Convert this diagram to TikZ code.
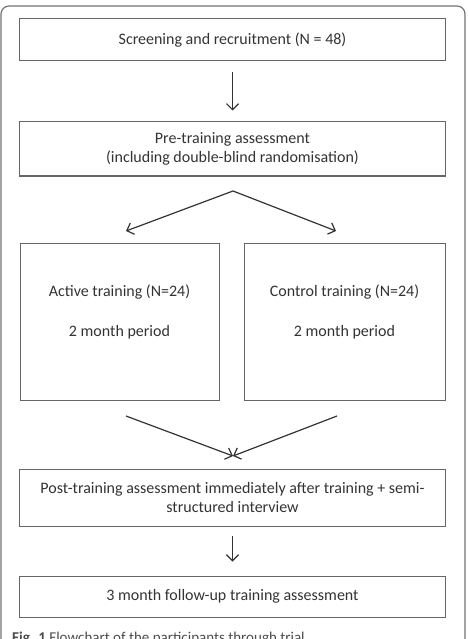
\documentclass[tikz,border=0pt]{standalone}
\usepackage{fontspec}
\setmainfont{Carlito}
\usetikzlibrary{arrows.meta, positioning}

\begin{document}
\begin{tikzpicture}[x=1pt, y=-1pt, >={Straight Barb[length=6pt,width=12pt]},
    box/.style={draw=black!60, line width=1pt, inner sep=0pt, align=center,
        font=\fontsize{16}{19.5}\selectfont, text=black!80},
    flow/.style={->, black!80, line width=1.2pt}]

    \useasboundingbox (0,0) rectangle (467,639);
    \begin{scope}
        \clip (0,0) rectangle (467,639);
        \draw [black!55, line width=1.2pt, rounded corners=8pt] (1,6) rectangle (465,720);
        \node [anchor=base west, inner sep=0pt, text=black!70,
            font=\fontsize{15}{18}\selectfont] (caption) at (12,642)
            {\textbf{Fig. 1} Flowchart of the participants through trial};
    \end{scope}

    \node [box, minimum width=426, minimum height=42] (screen) at (232.5,40) {Screening and recruitment (N = 48)};
    \node [box, minimum width=426, minimum height=54] (pre) at (232.5,149) {Pre-training assessment\\(including double-blind randomisation)};
    \node [box, minimum width=199, minimum height=157] (active) at (119.5,321.5) {};
    \node [box, minimum width=201, minimum height=157] (control) at (344.5,321.5) {};
    \node [box, draw=none] (activetxt) at (119.5,312) {Active training (N=24)\\[21pt]2 month period};
    \node [box, draw=none] (controltxt) at (344.5,312) {Control training (N=24)\\[21pt]2 month period};
    \node [box, minimum width=426, minimum height=57] (post) at (232.5,497.5) {Post-training assessment immediately after training + semi-\\structured interview};
    \node [box, minimum width=426, minimum height=41] (follow) at (232.5,596.5) {3 month follow-up training assessment};

    \coordinate (split) at (233,191);
    \coordinate (aIn) at (126,231);
    \coordinate (cIn) at (336,231);
    \coordinate (aOut) at (126,416);
    \coordinate (cOut) at (337,416);
    \coordinate (merge) at (233,456);

    \path [flow]
        (screen) edge [shorten <=11pt, shorten >=11pt] (pre)
        (split) edge (aIn)
        (split) edge (cIn)
        (aOut) edge (merge)
        (cOut) edge (merge)
        (post) edge [shorten <=9pt, shorten >=14pt] (follow);
\end{tikzpicture}
\end{document}
